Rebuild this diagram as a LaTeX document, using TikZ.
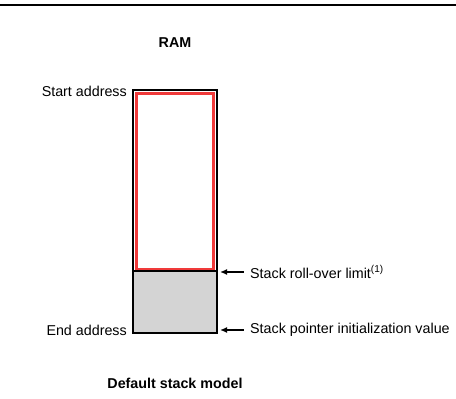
\documentclass[tikz,border=0pt]{standalone}
\usepackage{fontspec}
\setmainfont{Liberation Sans}
\usetikzlibrary{arrows.meta}
\definecolor{RamRed}{HTML}{F03A3A}
\definecolor{RamGray}{HTML}{D4D4D4}

\begin{document}
\begin{tikzpicture}[x=1pt,y=-1pt,
  lab/.style={font=\fontsize{14.3}{16}\selectfont,inner sep=0pt},
  ttl/.style={font=\fontsize{14.3}{16}\selectfont\bfseries,inner sep=0pt},
  ptr/.style={{Latex[length=7pt,width=6pt]}-,line width=1.3pt}]
  \useasboundingbox (0,0) rectangle (456,399);
  % rule at the top
  \draw[line width=1.5pt] (0,5) -- (456,5);
  \node[ttl] (ram) at (175,43) {RAM};
  % memory block
  \fill[RamGray] (133,271) rectangle (217,333);
  \draw[RamRed,line width=3pt] (136.5,93.5) rectangle (213.5,269);
  \draw[line width=1.3pt] (133,271) -- (217,271);
  \draw[line width=1.5pt] (133,90) rectangle (217,333);
  \coordinate (lim) at (220,272);
  \coordinate (spi) at (220,330);
  \coordinate (limtail) at (244,272);
  \coordinate (spitail) at (244,330);
  % labels
  \node[lab,anchor=east] (start) at (127,91) {Start address};
  \node[lab,anchor=east] (end) at (127,330) {End address};
  \node[lab,anchor=west] (limtxt) at (250,272) {Stack roll-over limit\textsuperscript{(1)}};
  \node[lab,anchor=west] (spitxt) at (250,330) {Stack pointer initialization value};
  \draw[ptr] (lim) -- (limtail);
  \draw[ptr] (spi) -- (spitail);
  \node[ttl] (cap) at (175,383) {Default stack model};
\end{tikzpicture}
\end{document}
